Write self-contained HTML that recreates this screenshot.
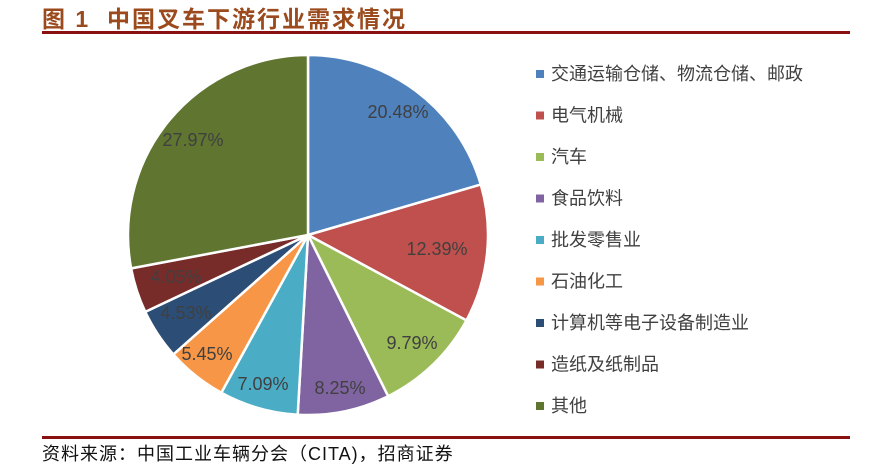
<!DOCTYPE html>
<html><head><meta charset="utf-8"><style>
body{margin:0;background:#fff;width:881px;height:473px;overflow:hidden;position:relative;font-family:"Liberation Sans","Noto Sans CJK SC",sans-serif}
.t{position:absolute;left:42px;top:0px;font-size:23px;font-weight:bold;color:#9a4a1c;letter-spacing:2px}
.l{position:absolute;left:42px;width:808px;height:3px;background:#8b1010}
.f{position:absolute;left:42px;top:440px;font-size:18px;color:#111;letter-spacing:1px}
</style></head><body>
<div class="t">图 1&nbsp; 中国叉车下游行业需求情况</div>
<div class="l" style="top:31px"></div>
<div class="l" style="top:436px"></div>
<div class="f">资料来源：中国工业车辆分会（CITA)，招商证券</div>
<svg id="s" width="881" height="473" style="position:absolute;left:0;top:0"></svg>
<script>
var d=[20.48,12.39,9.79,8.25,7.09,5.45,4.53,4.05,27.97];
var c=["#4f81bd","#c0504d","#9bbb59","#8064a2","#4bacc6","#f79646","#2c4d75","#772c2a","#5f7530"];
var n=["交通运输仓储、物流仓储、邮政","电气机械","汽车","食品饮料","批发零售业","石油化工","计算机等电子设备制造业","造纸及纸制品","其他"];
var lp=[[398,112],[437,249],[412,343],[340,388],[263,384],[207,354],[186,313],[176,277],[193,140]];
var cx=308,cy=235,r=180,a=0,h="";
for(var i=0;i<9;i++){var a2=a+d[i]/100*2*Math.PI;
var x1=cx+r*Math.sin(a),y1=cy-r*Math.cos(a),x2=cx+r*Math.sin(a2),y2=cy-r*Math.cos(a2);
h+='<path d="M'+cx+' '+cy+'L'+x1+' '+y1+'A'+r+' '+r+' 0 '+(a2-a>Math.PI?1:0)+' 1 '+x2+' '+y2+'Z" fill="'+c[i]+'" stroke="#fff" stroke-width="2.5"/>';a=a2;}
for(i=0;i<9;i++){h+='<text x="'+lp[i][0]+'" y="'+(lp[i][1]+6)+'" text-anchor="middle" font-size="18" fill="#404040" font-family="Liberation Sans,sans-serif">'+d[i].toFixed(2)+'%</text>';
var y=74+i*41.5;h+='<rect x="536" y="'+(y-4)+'" width="8" height="8" fill="'+c[i]+'"/><text x="551" y="'+(y+6)+'" font-size="18" fill="#404040" font-family="Liberation Sans,Noto Sans CJK SC,sans-serif">'+n[i]+'</text>';}
document.getElementById("s").innerHTML=h;
</script>
</body></html>
